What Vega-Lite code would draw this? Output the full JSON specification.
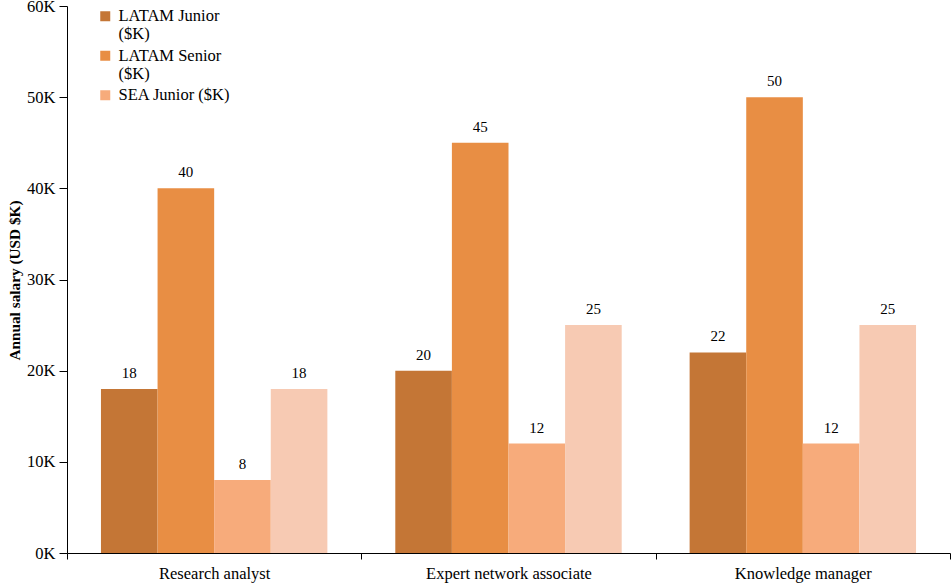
{
  "$schema": "https://vega.github.io/schema/vega-lite/v6.json",
  "autosize": "none",
  "width": 883,
  "height": 547,
  "padding": {"left": 67, "top": 6, "right": 2, "bottom": 34},
  "background": "white",
  "config": {
    "font": "Liberation Serif",
    "view": {"stroke": null}
  },
  "data": {
    "values": [
      {"role": "Research analyst", "series": "LATAM Junior ($K)", "value": 18},
      {"role": "Research analyst", "series": "LATAM Senior ($K)", "value": 40},
      {"role": "Research analyst", "series": "SEA Junior ($K)", "value": 8},
      {"role": "Research analyst", "series": "SEA Senior ($K)", "value": 18},
      {"role": "Expert network associate", "series": "LATAM Junior ($K)", "value": 20},
      {"role": "Expert network associate", "series": "LATAM Senior ($K)", "value": 45},
      {"role": "Expert network associate", "series": "SEA Junior ($K)", "value": 12},
      {"role": "Expert network associate", "series": "SEA Senior ($K)", "value": 25},
      {"role": "Knowledge manager", "series": "LATAM Junior ($K)", "value": 22},
      {"role": "Knowledge manager", "series": "LATAM Senior ($K)", "value": 50},
      {"role": "Knowledge manager", "series": "SEA Junior ($K)", "value": 12},
      {"role": "Knowledge manager", "series": "SEA Senior ($K)", "value": 25}
    ]
  },
  "encoding": {
    "x": {
      "field": "role",
      "type": "nominal",
      "sort": ["Research analyst", "Expert network associate", "Knowledge manager"],
      "scale": {"paddingInner": 0, "paddingOuter": 0},
      "axis": {
        "title": null,
        "labelAngle": 0,
        "labelFont": "Liberation Serif",
        "labelFontSize": 16.5,
        "labelColor": "#000000",
        "labelPadding": 6,
        "tickBand": "extent",
        "tickSize": 6,
        "tickColor": "#000000",
        "domainColor": "#000000",
        "domainWidth": 1
      }
    },
    "xOffset": {
      "field": "series",
      "type": "nominal",
      "sort": ["LATAM Junior ($K)", "LATAM Senior ($K)", "SEA Junior ($K)", "SEA Senior ($K)"],
      "scale": {"paddingInner": 0, "paddingOuter": 0.6}
    },
    "y": {
      "field": "value",
      "type": "quantitative",
      "scale": {"domain": [0, 60]},
      "axis": {
        "title": "Annual salary (USD $K)",
        "titleFont": "Liberation Serif",
        "titleFontSize": 15.3,
        "titleFontWeight": "bold",
        "titleColor": "#000000",
        "titleX": -53,
        "titleY": 274,
        "titleAlign": "center",
        "titleBaseline": "middle",
        "values": [0, 10, 20, 30, 40, 50, 60],
        "labelExpr": "datum.value + 'K'",
        "labelFont": "Liberation Serif",
        "labelFontSize": 16.5,
        "labelColor": "#000000",
        "labelPadding": 4,
        "tickSize": 8,
        "tickColor": "#000000",
        "domainColor": "#000000",
        "grid": false
      }
    }
  },
  "layer": [
    {
      "mark": {"type": "bar"},
      "encoding": {
        "color": {
          "field": "series",
          "type": "nominal",
          "scale": {
            "domain": ["LATAM Junior ($K)", "LATAM Senior ($K)", "SEA Junior ($K)", "SEA Senior ($K)"],
            "range": ["#C47636", "#E88E44", "#F7AB7B", "#F7CAB3"]
          },
          "legend": {
            "title": null,
            "values": ["LATAM Junior ($K)", "LATAM Senior ($K)", "SEA Junior ($K)"],
            "orient": "none",
            "legendX": 30,
            "legendY": 2,
            "symbolType": "square",
            "symbolSize": 100,
            "symbolStrokeWidth": 0,
            "labelFont": "Liberation Serif",
            "labelFontSize": 16.5,
            "labelColor": "#000000",
            "labelOffset": 5,
            "rowPadding": 4.5,
            "labelExpr": "datum.label == 'LATAM Junior ($K)' ? ['LATAM Junior', '($K)'] : datum.label == 'LATAM Senior ($K)' ? ['LATAM Senior', '($K)'] : datum.label",
            "labelBaseline": "top",
            "labelLimit": 200,
            "encode": {
              "labels": {"update": {"dy": {"value": -8}, "lineHeight": {"value": 18}}}
            }
          }
        }
      }
    },
    {
      "mark": {"type": "text", "dy": -16, "font": "Liberation Serif", "fontSize": 15, "color": "#000000"},
      "encoding": {
        "text": {"field": "value", "type": "quantitative"}
      }
    }
  ]
}
